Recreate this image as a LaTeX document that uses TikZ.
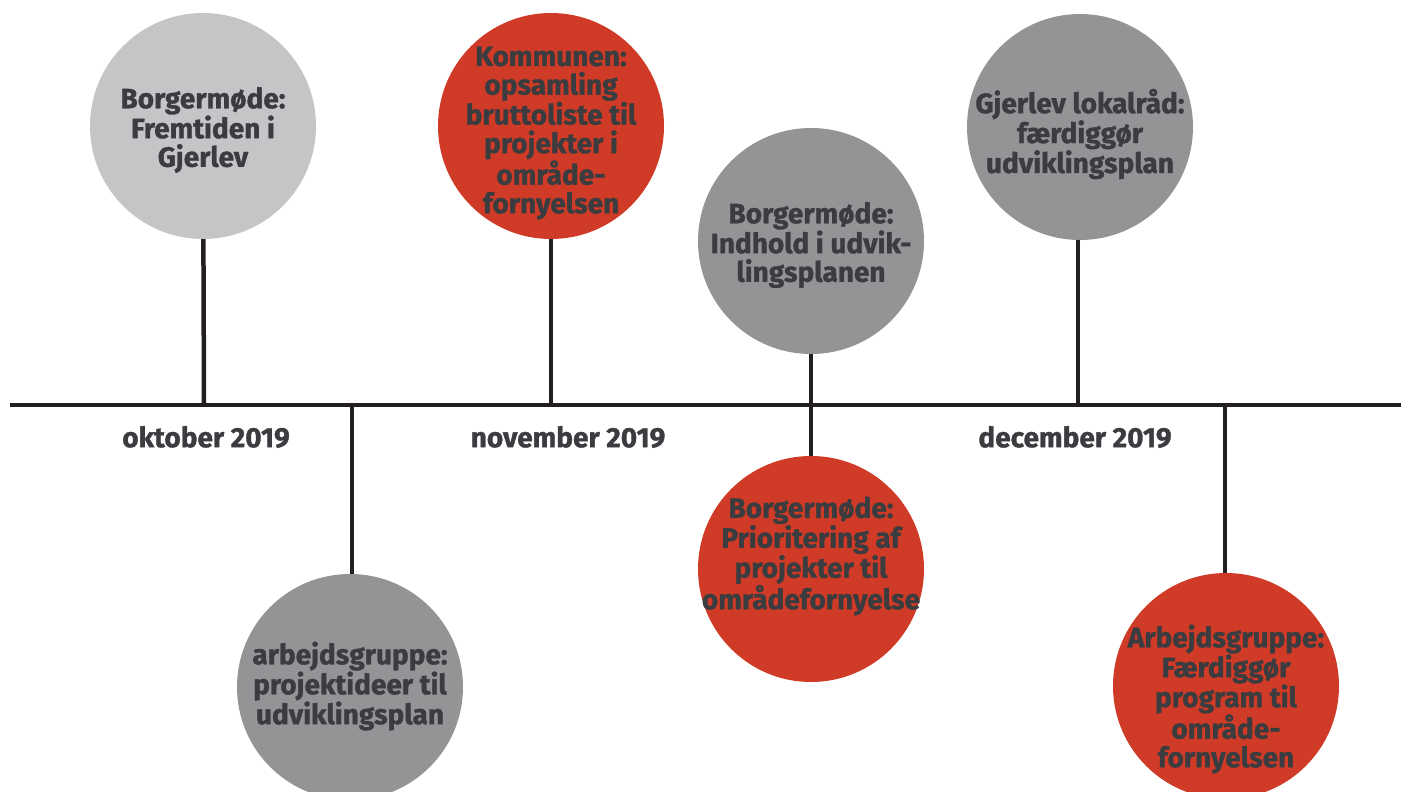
\documentclass[tikz,border=0pt]{standalone}
\usepackage{fontspec}
\setmainfont{Fira Sans}[BoldFeatures={FakeBold=1.2}]
\definecolor{txtc}{HTML}{3A3C3F}
\definecolor{lgray}{HTML}{C4C5C7}
\definecolor{mgray}{HTML}{939496}
\definecolor{redc}{HTML}{D03B27}
\definecolor{linec}{HTML}{231F20}
\begin{document}
\begin{tikzpicture}[x=1pt,y=-1pt,
  circ/.style={circle,minimum size=226pt,inner sep=0pt,draw=none},
  txt/.style={align=center,text=txtc,font=\fontsize{28}{28.6}\selectfont\bfseries,inner sep=0pt},
  lbl/.style={text=txtc,font=\fontsize{28}{28.6}\selectfont\bfseries,inner sep=0pt},
  tl/.style={draw=linec,line width=4.5pt}]
\useasboundingbox (0,0) rectangle (1401,792);
% circles
\node[circ,fill=lgray] (c1) at (203,126) {};
\node[circ,fill=redc]  (c2) at (551,126) {};
\node[circ,fill=mgray] (c3) at (811,241) {};
\node[circ,fill=mgray] (c4) at (1080,127) {};
\node[circ,fill=mgray] (c5) at (350,687) {};
\node[circ,fill=redc]  (c6) at (811,569) {};
\node[circ,fill=redc]  (c7) at (1226,686) {};
% timeline points
\coordinate (L) at (10,405);
\coordinate (R) at (1401,405);
\coordinate (k1) at (204,405);
\coordinate (k2) at (551,405);
\coordinate (k4) at (1078,405);
\coordinate (k5) at (352,405);
\coordinate (k7) at (1225,405);
% connectors
\draw[tl] (L) -- (R);
\draw[tl] (c1) -- (k1);
\draw[tl] (c2) -- (k2);
\draw[tl] (c3) -- (c6);
\draw[tl] (c4.south -| k4) -- (k4);
\draw[tl] (c5.north -| k5) -- (k5);
\draw[tl] (c7.north -| k7) -- (k7);
% texts
\node[txt] (t1) at (203,130) {Borgermøde:\\Fremtiden i\\Gjerlev};
\node[txt] (t2) at (551,133) {Kommunen:\\opsamling\\bruttoliste til\\projekter i\\område-\\fornyelsen};
\node[txt] (t3) at (811,245) {Borgermøde:\\Indhold i udvik-\\lingsplanen};
\node[txt] (t4) at (1080,134) {Gjerlev lokalråd:\\færdiggør\\udviklingsplan};
\node[txt] (t5) at (350,686) {arbejdsgruppe:\\projektideer til\\udviklingsplan};
\node[txt] (t6) at (811,556) {Borgermøde:\\Prioritering af\\projekter til\\områdefornyelse};
\node[txt] (t7) at (1226,699) {Arbejdsgruppe:\\Færdiggør\\program til\\område-\\fornyelsen};
% labels
\node[lbl] (m1) at (206,437) {oktober 2019};
\node[lbl] (m2) at (568,437) {november 2019};
\node[lbl] (m3) at (1075,437) {december 2019};
\end{tikzpicture}
\end{document}
